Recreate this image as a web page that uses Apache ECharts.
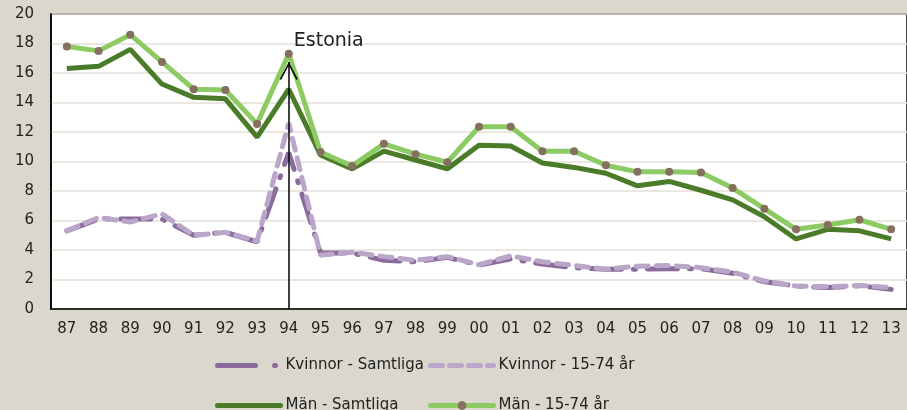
<!DOCTYPE html>
<html>
<head>
<meta charset="utf-8">
<script src="https://cdn.jsdelivr.net/npm/echarts@6/dist/echarts.min.js"></script>
<style>
  html, body { margin: 0; padding: 0; background: #dad8cc; }
  #chart { width: 907px; height: 410px; }
</style>
</head>
<body>
<div id="chart"></div>
<script>
var years = ['87','88','89','90','91','92','93','94','95','96','97','98','99','00',
             '01','02','03','04','05','06','07','08','09','10','11','12','13'];

var kvinnorSamtliga = [5.3, 6.1, 6.1, 6.1, 5.0, 5.2, 4.55, 10.6, 3.8, 3.8, 3.3, 3.2, 3.5, 2.98,
                       3.4, 3.05, 2.8, 2.7, 2.7, 2.73, 2.73, 2.42, 1.85, 1.56, 1.45, 1.58, 1.33];
var kvinnor1574 = [5.3, 6.2, 5.9, 6.45, 5.0, 5.2, 4.6, 12.6, 3.65, 3.85, 3.55, 3.3, 3.55, 3.0,
                   3.6, 3.2, 2.95, 2.7, 2.9, 2.95, 2.8, 2.5, 1.9, 1.56, 1.5, 1.6, 1.45];
var manSamtliga = [16.3, 16.45, 17.6, 15.25, 14.35, 14.25, 11.65, 14.9, 10.45, 9.5, 10.7, 10.1, 9.5, 11.1,
                   11.05, 9.9, 9.6, 9.2, 8.35, 8.65, 8.05, 7.4, 6.25, 4.75, 5.4, 5.3, 4.75];
var man1574 = [17.8, 17.5, 18.6, 16.75, 14.9, 14.85, 12.55, 17.3, 10.65, 9.7, 11.2, 10.5, 9.95, 12.35,
               12.35, 10.7, 10.7, 9.75, 9.3, 9.3, 9.25, 8.2, 6.8, 5.4, 5.7, 6.05, 5.4];

var eventYear = '94';
var eventTop = 16.75;
var eventLabel = 'Estonia';

var font = 'DejaVu Sans';
var chart = echarts.init(document.getElementById('chart'));

// one legend per item so the four entries sit in a 2x2 grid
function legendAt(item, left, top, h) {
    return {
        data: [item],
        left: left,
        top: top,
        itemWidth: 63,
        itemHeight: h || 12,
        itemGap: 0,
        textStyle: { fontFamily: font, fontSize: 15, color: '#222' }
    };
}

// open arrow head; tiny speck above keeps the tip at the symbol centre
var arrowHead = 'path://M10,-19 L10.02,-19 L10,-18.98 Z M10,0 L20,18 L18.5,19 L10,3.5 L1.5,19 L0,18 Z';

var option = {
    backgroundColor: '#dad8cc',
    animation: false,
    grid: {
        left: 51, top: 14, right: -3, bottom: 101,
        show: true,
        backgroundColor: '#fff',
        borderColor: '#000',
        borderWidth: 1.5
    },
    legend: [
        legendAt({ name: 'Kvinnor - Samtliga', itemStyle: { opacity: 0 },
                   lineStyle: { width: 5, type: [38, 19, 1, 30], cap: 'round' } }, 210, 353),
        legendAt({ name: 'Kvinnor - 15-74 år', itemStyle: { opacity: 0 },
                   lineStyle: { width: 5, type: [12, 7], cap: 'round' } }, 423, 353),
        legendAt({ name: 'Män - Samtliga', itemStyle: { opacity: 0 },
                   lineStyle: { width: 5, cap: 'round' } }, 210, 393),
        legendAt({ name: 'Män - 15-74 år',
                   lineStyle: { width: 5, cap: 'round' } }, 423, 393, 11)
    ],
    xAxis: {
        type: 'category',
        data: years,
        axisLine: { lineStyle: { color: '#000', width: 1.5 } },
        axisTick: { inside: true, length: 5, lineStyle: { color: '#000', width: 1 } },
        axisLabel: { fontFamily: font, fontSize: 15, color: '#222', margin: 13 }
    },
    yAxis: {
        type: 'value',
        min: 0, max: 20, interval: 2,
        axisLine: { show: true, lineStyle: { color: '#000', width: 1.5 } },
        axisTick: { show: false },
        axisLabel: { fontFamily: font, fontSize: 15, color: '#222', margin: 17 },
        splitLine: { lineStyle: { color: '#e2dfd6', width: 1.5 } }
    },
    series: [
        {
            name: 'Kvinnor - Samtliga',
            type: 'line',
            data: kvinnorSamtliga,
            symbol: 'none',
            lineStyle: { color: '#8a6b9b', width: 5, type: [30, 12, 2, 12], cap: 'round' },
            itemStyle: { color: '#8a6b9b' }
        },
        {
            name: 'Kvinnor - 15-74 år',
            type: 'line',
            data: kvinnor1574,
            symbol: 'none',
            lineStyle: { color: '#b9a6c8', width: 5, type: [12, 8], cap: 'round' },
            itemStyle: { color: '#b9a6c8' }
        },
        {
            name: 'Män - Samtliga',
            type: 'line',
            data: manSamtliga,
            symbol: 'none',
            lineStyle: { color: '#4a7b28', width: 5 },
            itemStyle: { color: '#4a7b28' }
        },
        {
            name: 'Män - 15-74 år',
            type: 'line',
            data: man1574,
            symbol: 'circle',
            symbolSize: 8,
            lineStyle: { color: '#8ccb64', width: 5 },
            itemStyle: { color: '#85705f' },
            markLine: {
                silent: true,
                z: 10,
                symbol: ['none', arrowHead],
                symbolSize: [18, 36],
                lineStyle: { color: '#000', width: 1.5, type: 'solid' },
                label: {
                    show: true,
                    position: 'end',
                    formatter: eventLabel,
                    fontFamily: font,
                    fontSize: 19,
                    color: '#222',
                    offset: [40, -6]
                },
                data: [[{ coord: [eventYear, 0] }, { coord: [eventYear, eventTop] }]]
            }
        }
    ]
};
chart.setOption(option);
</script>
</body>
</html>
